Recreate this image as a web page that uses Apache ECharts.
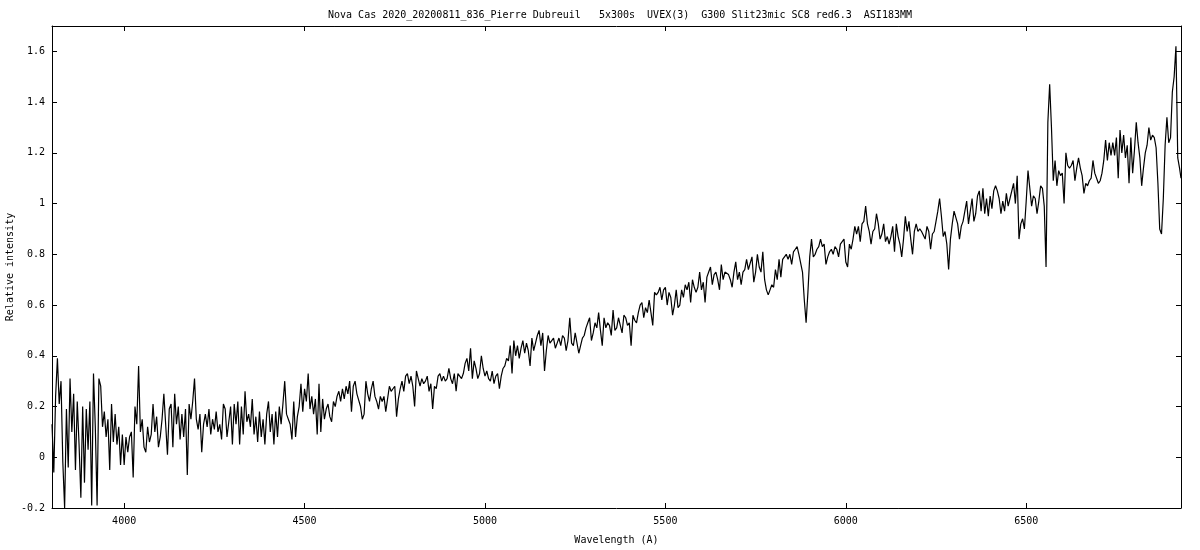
<!DOCTYPE html>
<html>
<head>
<meta charset="utf-8">
<script src="https://cdn.jsdelivr.net/npm/echarts@6/dist/echarts.min.js"></script>
<style>
html,body{margin:0;padding:0;background:#fff;}
#chart{width:1200px;height:550px;}
</style>
</head>
<body>
<div id="chart"></div>
<script>
const titleText = "Nova Cas 2020_20200811_836_Pierre Dubreuil   5x300s  UVEX(3)  G300 Slit23mic SC8 red6.3  ASI183MM";
const xAxisName = "Wavelength (A)";
const yAxisName = "Relative intensity";
const xTicks = [4000, 4500, 5000, 5500, 6000, 6500];
const yTicks = [-0.2, 0, 0.2, 0.4, 0.6, 0.8, 1, 1.2, 1.4, 1.6];

const wavelength = [
3800,3805,3810,3815,3820,3825,3830,3835,3840,3845,3850,3855,3860,3865,3870,3875,3880,3885,3890,3895,
3900,3905,3910,3915,3920,3925,3930,3935,3940,3945,3950,3955,3960,3965,3970,3975,3980,3985,3990,3995,
4000,4005,4010,4015,4020,4025,4030,4035,4040,4045,4050,4055,4060,4065,4070,4075,4080,4085,4090,4095,
4100,4105,4110,4115,4120,4125,4130,4135,4140,4145,4150,4155,4160,4165,4170,4175,4180,4185,4190,4195,
4200,4205,4210,4215,4220,4225,4230,4235,4240,4245,4250,4255,4260,4265,4270,4275,4280,4285,4290,4295,
4300,4305,4310,4315,4320,4325,4330,4335,4340,4345,4350,4355,4360,4365,4370,4375,4380,4385,4390,4395,
4400,4405,4410,4415,4420,4425,4430,4435,4440,4445,4450,4455,4460,4465,4470,4475,4480,4485,4490,4495,
4500,4505,4510,4515,4520,4525,4530,4535,4540,4545,4550,4555,4560,4565,4570,4575,4580,4585,4590,4595,
4600,4605,4610,4615,4620,4625,4630,4635,4640,4645,4650,4655,4660,4665,4670,4675,4680,4685,4690,4695,
4700,4705,4710,4715,4720,4725,4730,4735,4740,4745,4750,4755,4760,4765,4770,4775,4780,4785,4790,4795,
4800,4805,4810,4815,4820,4825,4830,4835,4840,4845,4850,4855,4860,4865,4870,4875,4880,4885,4890,4895,
4900,4905,4910,4915,4920,4925,4930,4935,4940,4945,4950,4955,4960,4965,4970,4975,4980,4985,4990,4995,
5000,5005,5010,5015,5020,5025,5030,5035,5040,5045,5050,5055,5060,5065,5070,5075,5080,5085,5090,5095,
5100,5105,5110,5115,5120,5125,5130,5135,5140,5145,5150,5155,5160,5165,5170,5175,5180,5185,5190,5195,
5200,5205,5210,5215,5220,5225,5230,5235,5240,5245,5250,5255,5260,5265,5270,5275,5280,5285,5290,5295,
5300,5305,5310,5315,5320,5325,5330,5335,5340,5345,5350,5355,5360,5365,5370,5375,5380,5385,5390,5395,
5400,5405,5410,5415,5420,5425,5430,5435,5440,5445,5450,5455,5460,5465,5470,5475,5480,5485,5490,5495,
5500,5505,5510,5515,5520,5525,5530,5535,5540,5545,5550,5555,5560,5565,5570,5575,5580,5585,5590,5595,
5600,5605,5610,5615,5620,5625,5630,5635,5640,5645,5650,5655,5660,5665,5670,5675,5680,5685,5690,5695,
5700,5705,5710,5715,5720,5725,5730,5735,5740,5745,5750,5755,5760,5765,5770,5775,5780,5785,5790,5795,
5800,5805,5810,5815,5820,5825,5830,5835,5840,5845,5850,5855,5860,5865,5870,5875,5880,5885,5890,5895,
5900,5905,5910,5915,5920,5925,5930,5935,5940,5945,5950,5955,5960,5965,5970,5975,5980,5985,5990,5995,
6000,6005,6010,6015,6020,6025,6030,6035,6040,6045,6050,6055,6060,6065,6070,6075,6080,6085,6090,6095,
6100,6105,6110,6115,6120,6125,6130,6135,6140,6145,6150,6155,6160,6165,6170,6175,6180,6185,6190,6195,
6200,6205,6210,6215,6220,6225,6230,6235,6240,6245,6250,6255,6260,6265,6270,6275,6280,6285,6290,6295,
6300,6305,6310,6315,6320,6325,6330,6335,6340,6345,6350,6355,6360,6365,6370,6375,6380,6385,6390,6395,
6400,6405,6410,6415,6420,6425,6430,6435,6440,6445,6450,6455,6460,6465,6470,6475,6480,6485,6490,6495,
6500,6505,6510,6515,6520,6525,6530,6535,6540,6545,6550,6555,6560,6565,6570,6575,6580,6585,6590,6595,
6600,6605,6610,6615,6620,6625,6630,6635,6640,6645,6650,6655,6660,6665,6670,6675,6680,6685,6690,6695,
6700,6705,6710,6715,6720,6725,6730,6735,6740,6745,6750,6755,6760,6765,6770,6775,6780,6785,6790,6795,
6800,6805,6810,6815,6820,6825,6830,6835,6840,6845,6850,6855,6860,6865,6870,6875,6880,6885,6890,6895,
6900,6905,6910,6915,6920,6925,6929
];

const intensity = [
// 3800-4055
0.13,-0.06,0.24,0.39,0.21,0.30,-0.02,-0.20,0.19,-0.04,
0.31,0.10,0.25,-0.05,0.22,0.05,-0.16,0.20,-0.10,0.19,
0.03,0.22,-0.19,0.33,0.12,-0.19,0.31,0.28,0.12,0.18,
0.08,0.15,-0.05,0.21,0.06,0.17,0.05,0.12,-0.03,0.09,
-0.03,0.08,0.02,0.08,0.10,-0.08,0.20,0.13,0.36,0.10,
0.15,0.04,
// 4060-4355
0.02,0.12,0.06,0.09,0.21,0.10,0.16,0.04,0.08,0.15,
0.25,0.13,0.01,0.19,0.21,0.04,0.25,0.13,0.20,0.07,
0.17,0.08,0.19,-0.07,0.21,0.15,0.22,0.31,0.15,0.11,
0.17,0.02,0.13,0.17,0.12,0.19,0.09,0.15,0.11,0.18,
0.10,0.13,0.07,0.21,0.19,0.08,0.14,0.20,0.05,0.21,
0.13,0.22,0.05,0.20,0.09,0.26,0.14,0.17,0.12,0.23,
// 4360-4645
0.09,0.16,0.06,0.18,0.08,0.15,0.05,0.17,0.22,0.10,
0.17,0.05,0.18,0.08,0.20,0.13,0.21,0.30,0.17,0.15,
0.13,0.07,0.22,0.08,0.16,0.20,0.29,0.18,0.27,0.22,
0.33,0.19,0.24,0.17,0.23,0.09,0.29,0.10,0.23,0.15,
0.19,0.21,0.16,0.14,0.22,0.20,0.24,0.26,0.22,0.27,
0.23,0.28,0.25,0.30,0.18,0.28,0.30,0.25,
// 4650-4935
0.25,0.20,0.15,0.17,0.30,0.25,0.22,0.27,0.30,0.24,
0.22,0.19,0.24,0.22,0.24,0.18,0.18,0.28,0.26,0.27,
0.28,0.16,0.23,0.27,0.30,0.26,0.32,0.33,0.29,0.32,
0.28,0.20,0.34,0.31,0.28,0.31,0.29,0.30,0.32,0.26,
0.29,0.19,0.28,0.27,0.32,0.33,0.30,0.32,0.30,0.31,
0.35,0.31,0.29,0.33,0.26,0.33,0.32,0.31,
// 4940-5220
0.33,0.37,0.39,0.34,0.43,0.31,0.38,0.35,0.31,0.33,
0.40,0.35,0.32,0.34,0.31,0.30,0.34,0.29,0.32,0.33,
0.27,0.32,0.35,0.36,0.39,0.38,0.44,0.33,0.46,0.40,
0.44,0.39,0.43,0.46,0.41,0.45,0.42,0.36,0.47,0.42,
0.45,0.48,0.50,0.44,0.49,0.34,0.42,0.48,0.45,0.46,
0.47,0.43,0.45,0.47,0.44,0.48,0.47,
// 5225-5510
0.42,0.46,0.55,0.45,0.44,0.49,0.49,0.41,0.44,0.47,
0.48,0.51,0.53,0.55,0.46,0.49,0.53,0.51,0.57,0.50,
0.44,0.55,0.51,0.53,0.52,0.48,0.58,0.50,0.51,0.55,
0.52,0.49,0.56,0.55,0.52,0.53,0.44,0.56,0.54,0.53,
0.57,0.60,0.61,0.55,0.59,0.57,0.62,0.62,0.52,0.65,
0.64,0.65,0.67,0.62,0.66,0.67,0.60,0.65,
// 5515-5800
0.63,0.56,0.60,0.66,0.59,0.60,0.66,0.63,0.68,0.66,
0.69,0.61,0.70,0.67,0.65,0.67,0.73,0.66,0.69,0.61,
0.71,0.73,0.75,0.68,0.72,0.73,0.70,0.66,0.76,0.70,
0.73,0.73,0.72,0.70,0.67,0.73,0.77,0.70,0.73,0.68,
0.73,0.74,0.78,0.74,0.74,0.79,0.69,0.73,0.80,0.75,
0.73,0.81,0.70,0.66,0.64,0.66,0.68,0.67,
// 5805-6090
0.74,0.70,0.78,0.71,0.78,0.79,0.80,0.78,0.80,0.76,
0.81,0.82,0.83,0.80,0.80,0.73,0.62,0.53,0.65,0.79,
0.86,0.79,0.80,0.82,0.83,0.86,0.83,0.84,0.76,0.79,
0.81,0.82,0.80,0.83,0.82,0.79,0.84,0.85,0.86,0.77,
0.75,0.84,0.82,0.86,0.91,0.88,0.91,0.85,0.92,0.93,
0.99,0.92,0.89,0.84,0.89,0.90,0.96,0.92,
// 6095-6380
0.86,0.88,0.92,0.85,0.87,0.84,0.87,0.91,0.81,0.92,
0.87,0.84,0.79,0.86,0.95,0.89,0.93,0.86,0.80,0.89,
0.92,0.89,0.90,0.89,0.89,0.86,0.91,0.89,0.82,0.88,
0.89,0.93,0.97,1.02,0.95,0.87,0.89,0.84,0.74,0.86,
0.92,0.97,0.97,0.92,0.86,0.91,0.93,0.97,1.01,0.92,
0.97,1.02,0.93,0.96,1.03,1.05,0.97,1.06,
// 6385-6670
0.96,1.02,0.95,1.03,0.98,1.05,1.07,1.05,1.02,0.96,
1.01,0.97,1.04,0.99,1.02,1.02,1.08,1.00,1.11,0.86,
0.92,0.94,0.90,1.01,1.13,1.06,0.99,1.03,1.02,0.96,
1.01,1.07,1.06,0.99,0.75,1.32,1.47,1.30,1.09,1.17,
1.07,1.13,1.11,1.12,1.00,1.20,1.15,1.14,1.15,1.17,
1.09,1.14,1.18,1.14,1.11,1.04,1.08,1.07,
// 6675-6929
1.09,1.10,1.17,1.12,1.12,1.08,1.09,1.12,1.17,1.25,
1.17,1.24,1.19,1.24,1.19,1.26,1.10,1.29,1.20,1.27,
1.18,1.23,1.08,1.26,1.12,1.21,1.32,1.24,1.18,1.07,
1.14,1.20,1.23,1.30,1.25,1.27,1.26,1.22,1.08,0.90,
0.88,1.02,1.23,1.34,1.24,1.26,1.44,1.50,1.62,1.18,
1.14,1.10
];

if (wavelength.length !== intensity.length) {
  console.error('length mismatch', wavelength.length, intensity.length);
}

const seriesData = wavelength.map((w, i) => [w, intensity[i]]);

const FONT = 'DejaVu Sans Mono';
const baseText = { fontFamily: FONT, fontSize: 10, color: '#000' };
const axisLineStyle = { show: true, onZero: false, lineStyle: { color: '#000', width: 1 } };
const tickStyle = { show: true, inside: true, length: 5, lineStyle: { color: '#000', width: 1 } };

const chart = echarts.init(document.getElementById('chart'), null, { renderer: 'canvas' });
chart.setOption({
  animation: false,
  backgroundColor: '#ffffff',
  title: {
    text: titleText,
    left: 615,
    top: 5,
    textAlign: 'center',
    textStyle: Object.assign({ fontWeight: 'normal' }, baseText)
  },
  grid: { left: 52, top: 26, width: 1129, height: 482, containLabel: false, outerBoundsMode: 'none' },
  xAxis: [
    {
      type: 'value', min: 3800, max: 6929, position: 'bottom',
      axisLine: axisLineStyle,
      axisTick: Object.assign({ customValues: xTicks }, tickStyle),
      axisLabel: Object.assign({ customValues: xTicks, margin: 8,
        formatter: v => String(v) }, baseText),
      splitLine: { show: false },
      name: xAxisName, nameLocation: 'middle', nameGap: 27,
      nameMoveOverlap: false,
      nameTextStyle: baseText
    },
    {
      type: 'value', min: 3800, max: 6929, position: 'top',
      axisLine: axisLineStyle,
      axisTick: Object.assign({ customValues: xTicks }, tickStyle),
      axisLabel: { show: false },
      splitLine: { show: false }
    }
  ],
  yAxis: [
    {
      type: 'value', min: -0.2, max: 1.7, position: 'left',
      axisLine: axisLineStyle,
      axisTick: Object.assign({ customValues: yTicks }, tickStyle),
      axisLabel: Object.assign({ customValues: yTicks, margin: 7,
        formatter: v => String(+(+v).toFixed(1)) }, baseText),
      splitLine: { show: false },
      name: yAxisName, nameLocation: 'middle', nameGap: 37,
      nameMoveOverlap: false,
      nameTextStyle: baseText
    },
    {
      type: 'value', min: -0.2, max: 1.7, position: 'right',
      axisLine: axisLineStyle,
      axisTick: Object.assign({ customValues: yTicks }, tickStyle),
      axisLabel: { show: false },
      splitLine: { show: false }
    }
  ],
  series: [{
    type: 'line',
    xAxisIndex: 0, yAxisIndex: 0,
    data: seriesData,
    symbol: 'none',
    showSymbol: false,
    lineStyle: { color: '#000', width: 1.2 },
    emphasis: { disabled: true },
    clip: true
  }]
});
</script>
</body>
</html>
